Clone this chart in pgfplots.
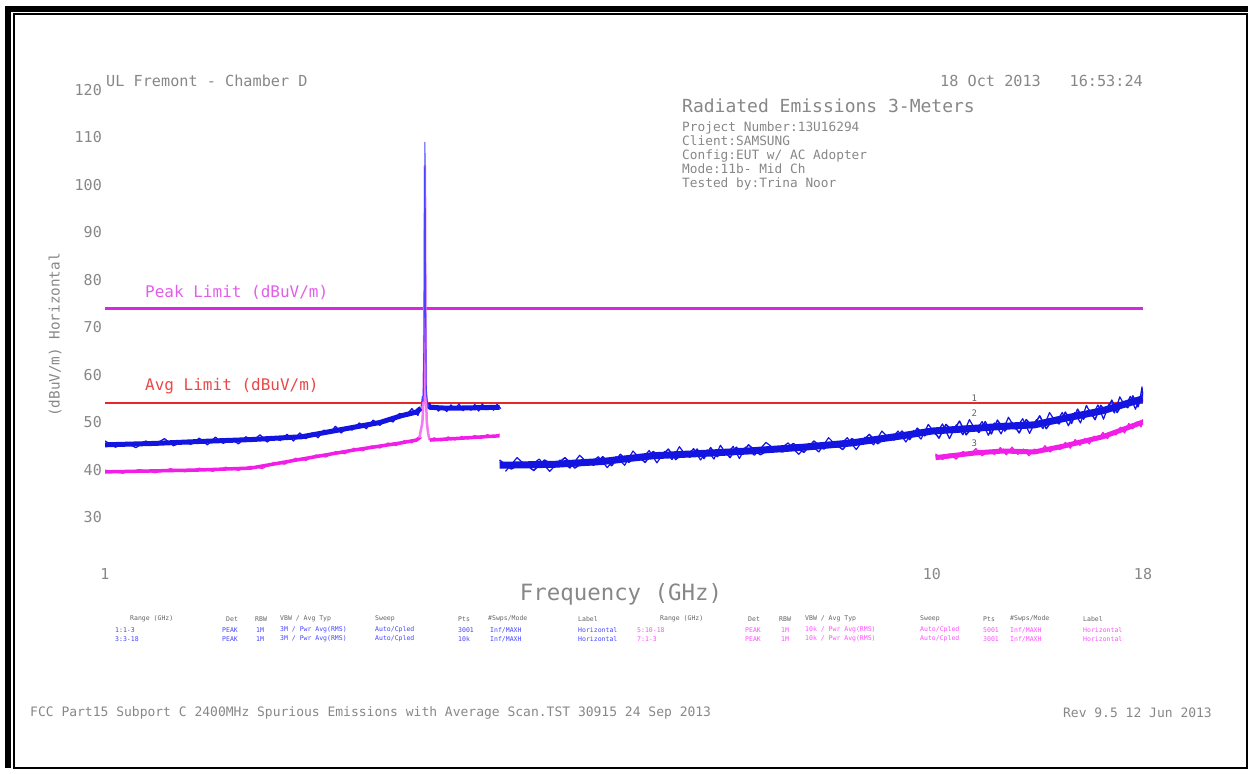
\documentclass[border=0pt]{standalone}
\usepackage{fontspec}
\setmainfont{DejaVu Sans Mono}
\usepackage{pgfplots}
\pgfplotsset{compat=1.18}
\definecolor{tblue}{RGB}{20,20,225}
\definecolor{tmag}{RGB}{240,30,230}
\definecolor{lmag}{RGB}{215,40,225}
\definecolor{lred}{RGB}{230,40,40}
\definecolor{txt}{RGB}{135,135,135}
\definecolor{hdr}{RGB}{100,100,100}
\definecolor{lgblue}{RGB}{70,70,255}
\definecolor{lgmag}{RGB}{255,80,255}
\newcommand\lt[4]{\node[anchor=west,inner sep=0pt,text=#3,font=\fontsize{6.5}{7}\selectfont] at (#1,#2) {#4};}
\begin{document}
\begin{tikzpicture}[x=1pt,y=1pt]
\path[use as bounding box] (0,0) rectangle (1249,773);
% frame
\fill (5,767) rectangle (11,5);
\fill (5,767) rectangle (1248,761);
\draw[line width=2pt] (14,759) rectangle (1247,5);

\begin{axis}[
  at={(105pt,208pt)}, anchor=south west,
  scale only axis, width=1038pt, height=475pt,
  xmode=log, xmin=1, xmax=18, ymin=20, ymax=120,
  enlargelimits=false,
  axis line style={draw=none}, tick style={draw=none},
  major tick length=0pt, minor tick length=0pt,
  xtick={1,10,18}, xticklabels={1,10,18}, minor xtick={},
  ytick={30,40,...,120},
  /pgf/number format/assume math mode=true,
  yticklabel style={font=\fontsize{15}{15}\selectfont, text=txt, anchor=east, inner sep=0pt, xshift=-3pt},
  xticklabel style={font=\fontsize{15}{15}\selectfont, text=txt, anchor=north, inner sep=0pt, yshift=-3pt},
  line join=round,
]
% limits
\addplot[lmag, line width=2.4pt] coordinates {(1,74) (18,74)};
\addplot[lred, line width=2pt] coordinates {(1,54) (18,54)};

% trace 1: blue 1-3 GHz
\addplot[tblue, line width=5pt] coordinates {(1.00,45.3) (1.15,45.6) (1.30,46.0) (1.50,46.4) (1.73,47.0) (2.00,49.0) (2.15,50.0) (2.28,51.4) (2.38,52.2) (2.41,53.0)};
\addplot[tblue, line width=1.3pt] coordinates {
(1.00,46.1) (1.03,44.8) (1.06,45.8) (1.09,44.7) (1.12,46.1) (1.15,45.4) (1.18,46.6) (1.21,45.1) (1.24,45.9) (1.27,45.4)
(1.30,46.7) (1.33,45.3) (1.36,46.9) (1.39,45.6) (1.42,46.6) (1.45,45.5) (1.48,47.0) (1.51,46.2) (1.54,47.4) (1.57,45.9)
(1.60,46.8) (1.63,46.2) (1.66,47.5) (1.69,46.1) (1.72,47.8) (1.75,46.6) (1.78,47.8) (1.81,46.8) (1.84,48.4) (1.87,47.8)
(1.90,49.2) (1.93,47.8) (1.96,48.8) (1.99,48.4) (2.03,49.9) (2.07,48.7) (2.11,50.5) (2.15,49.4) (2.19,50.8) (2.23,50.1)
(2.27,51.9) (2.31,51.4) (2.35,52.9) (2.39,51.5) (2.41,53.0)};
\addplot[tblue, line width=5pt] coordinates {(2.455,54.0) (2.47,53.2) (2.6,53.0) (2.8,53.1) (3.0,53.2)};
\addplot[tblue, line width=1.3pt] coordinates {
(2.46,53.2) (2.50,53.6) (2.53,52.4) (2.56,53.3) (2.59,52.3) (2.62,53.7) (2.65,52.8) (2.68,53.9) (2.71,52.5) (2.74,53.2)
(2.77,52.6) (2.80,53.8) (2.83,52.4) (2.86,53.9) (2.89,52.7) (2.92,53.5) (2.95,52.6) (2.98,53.8) (3.01,52.9)};

% trace 7: magenta 1-3 GHz
\addplot[tmag, line width=3.5pt] coordinates {(1.00,39.6) (1.30,40.0) (1.50,40.4) (1.73,42.3) (2.00,44.2) (2.28,45.7) (2.38,46.3) (2.41,47.0)};
\addplot[tmag, line width=1pt] coordinates {
(1.00,40.0) (1.05,39.3) (1.10,40.1) (1.15,39.4) (1.20,40.3) (1.25,39.6) (1.30,40.4) (1.35,39.7) (1.40,40.6) (1.45,39.9)
(1.50,40.8) (1.55,40.3) (1.60,41.6) (1.65,41.2) (1.70,42.5) (1.75,42.0) (1.80,43.2) (1.85,42.7) (1.90,43.9) (1.95,43.4)
(2.00,44.6) (2.05,44.0) (2.10,45.1) (2.15,44.6) (2.20,45.7) (2.25,45.1) (2.30,46.2) (2.35,45.7) (2.39,46.7)};
\addplot[tmag!60, line width=2.5pt] coordinates {(2.40,46.8) (2.42,50) (2.43,56) (2.434,75) (2.437,104) (2.440,75) (2.444,56) (2.45,50) (2.46,47.5) (2.47,46.3)};
\addplot[tmag, line width=3.5pt] coordinates {(2.47,46.3) (2.7,46.7) (3.0,47.2)};
\addplot[tmag, line width=1pt] coordinates {
(2.47,46.3) (2.50,46.8) (2.55,46.1) (2.60,47.0) (2.65,46.3) (2.70,47.1) (2.75,46.5) (2.80,47.3) (2.85,46.6) (2.90,47.5) (2.95,46.8) (3.00,47.6)};

% blue peak
\addplot[lgblue, line width=1.1pt] coordinates {(2.41,53.0) (2.42,55.5) (2.425,54.5) (2.432,70) (2.437,109) (2.442,75) (2.446,57) (2.45,55.5) (2.46,53.2)};

% trace 3: blue 3-18 GHz
\addplot[tblue, line width=7pt] coordinates {(3.0,41.0) (3.5,41.2) (4.0,41.8) (4.6,43.0) (5.3,43.5) (6.0,44.0) (7.0,44.8) (8.0,45.7) (9.2,47.2) (10.0,48.2) (11.3,48.8) (12.2,49.2) (13.3,49.5) (14.4,50.8) (16.1,52.5) (18.0,55.0)};
\addplot[tblue, line width=1.5pt] coordinates {
(3.0,42.1) (3.1,40.2) (3.2,41.6) (3.3,39.9) (3.4,42.1) (3.5,40.9) (3.6,42.6) (3.7,40.4) (3.8,41.8) (3.9,41.0)
(4.0,42.8) (4.1,40.9) (4.2,43.3) (4.3,41.6) (4.4,43.1) (4.5,41.6) (4.6,43.9) (4.7,42.8) (4.8,44.4) (4.9,42.2)
(5.0,43.5) (5.1,42.7) (5.2,44.4) (5.3,42.4) (5.4,44.7) (5.5,42.8) (5.6,44.2) (5.7,42.6) (5.8,44.8) (5.9,43.6)
(6.0,45.3) (6.2,43.2) (6.4,44.5) (6.6,43.8) (6.8,45.6) (7.0,43.7) (7.2,46.1) (7.4,44.4) (7.6,45.8) (7.8,44.3)
(8.0,46.6) (8.2,45.7) (8.4,47.5) (8.6,45.5) (8.8,46.9) (9.0,46.3) (9.2,48.2) (9.4,46.4) (9.6,48.8) (9.8,47.2)
(10.0,48.7) (10.2,46.7) (10.4,49.6) (10.6,48.1) (10.8,50.3) (11.0,47.4) (11.2,49.1) (11.4,47.9) (11.6,50.2) (11.8,47.6)
(12.0,50.5) (12.25,48.2) (12.5,50.0) (12.75,47.8) (13.0,50.6) (13.25,49.1) (13.5,51.4) (13.75,48.7) (14.0,50.6) (14.25,49.7)
(14.5,52.2) (14.75,49.8) (15.0,52.8) (15.25,50.7) (15.5,52.6) (15.75,50.6) (16.0,53.6) (16.25,52.3) (16.5,54.7) (16.75,52.1)
(17.0,54.0) (17.25,53.1) (17.5,55.6) (17.75,53.3) (18.0,56.4)};
\addplot[tblue, line width=1.2pt] coordinates {
(3.05,39.7) (3.15,42.6) (3.25,40.5) (3.35,42.3) (3.45,39.7) (3.55,42.1) (3.65,40.4) (3.75,43.1) (3.85,41.2) (3.95,42.8)
(4.05,40.5) (4.15,42.8) (4.25,41.0) (4.35,44.0) (4.45,42.1) (4.55,44.1) (4.65,41.5) (4.75,43.9) (4.85,42.2) (4.95,44.9)
(5.05,42.9) (5.15,44.5) (5.25,42.1) (5.35,44.2) (5.45,42.3) (5.55,45.2) (5.65,43.2) (5.75,45.0) (5.85,42.4) (5.95,44.8)
(6.1,43.1) (6.3,45.8) (6.5,44.0) (6.7,45.7) (6.9,43.3) (7.1,45.6) (7.3,43.8) (7.5,46.8) (7.7,44.8) (7.9,46.8)
(8.1,44.3) (8.3,46.9) (8.5,45.3) (8.7,48.2) (8.9,46.4) (9.1,48.2) (9.3,45.9) (9.5,48.3) (9.7,46.5) (9.9,49.6)
(10.1,47.5) (10.3,49.7) (10.5,46.6) (10.7,49.5) (10.9,47.4) (11.1,50.6) (11.3,48.3) (11.5,50.2) (11.7,47.3) (11.9,49.9)
(12.125,47.6) (12.375,51.1) (12.625,48.6) (12.875,50.8) (13.125,47.7) (13.375,50.6) (13.625,48.7) (13.875,52.1) (14.125,50.0) (14.375,52.1)
(14.625,49.3) (14.875,52.1) (15.125,49.9) (15.375,53.6) (15.625,51.3) (15.875,53.7) (16.125,50.7) (16.375,53.9) (16.625,52.0) (16.875,55.4)
(17.125,53.4) (17.375,55.5) (17.625,52.8) (17.875,55.6) (17.95,57.5) (18.0,55.2)};

% trace 5: magenta 10-18 GHz
\addplot[tmag, line width=5pt] coordinates {(10.1,42.6) (11.3,43.6) (12.2,44.0) (13.3,43.8) (14.4,45.0) (16.1,47.0) (18.0,50.1)};
\addplot[tmag, line width=1.3pt] coordinates {
(10.1,43.4) (10.3,42.2) (10.5,43.4) (10.7,42.3) (10.9,43.9) (11.1,43.1) (11.3,44.5) (11.5,43.0) (11.7,44.0) (11.9,43.3)
(12.1,44.7) (12.3,43.2) (12.5,44.8) (12.7,43.3) (12.9,44.4) (13.1,43.0) (13.3,44.4) (13.5,43.7) (13.7,45.1) (13.9,43.8)
(14.1,44.9) (14.3,44.3) (14.5,45.8) (14.7,44.6) (14.9,46.4) (15.1,45.2) (15.3,46.6) (15.5,45.5) (15.7,47.1) (15.9,46.5)
(16.1,47.9) (16.3,46.6) (16.5,47.9) (16.7,47.4) (16.9,49.0) (17.1,47.8) (17.3,49.8) (17.5,48.7) (17.7,50.1) (17.9,49.1) (18.0,50.7)};

% marker labels
\node[font=\fontsize{9}{9}\selectfont, text=hdr, inner sep=0pt] at (axis cs:11.25,55.2) {1};
\node[font=\fontsize{9}{9}\selectfont, text=hdr, inner sep=0pt] at (axis cs:11.25,51.9) {2};
\node[font=\fontsize{9}{9}\selectfont, text=hdr, inner sep=0pt] at (axis cs:11.25,45.6) {3};
\end{axis}

% texts
\node[anchor=west, inner sep=0pt, text=txt, font=\fontsize{15.2}{16}\selectfont] at (106,692) {UL Fremont - Chamber D};
\node[anchor=west, inner sep=0pt, text=txt, font=\fontsize{15.2}{16}\selectfont] at (940,692) {18 Oct 2013};
\node[anchor=east, inner sep=0pt, text=txt, font=\fontsize{15.2}{16}\selectfont] at (1143,692) {16:53:24};
\node[anchor=west, inner sep=0pt, text=txt, font=\fontsize{18}{20}\selectfont] at (682,667) {Radiated Emissions 3-Meters};
\node[anchor=north west, inner sep=0pt, align=left, text=txt, font=\fontsize{12.8}{14}\selectfont] at (682,651) {Project Number:13U16294\\Client:SAMSUNG\\Config:EUT w/ AC Adopter\\Mode:11b- Mid Ch\\Tested by:Trina Noor};
\node[rotate=90, inner sep=0pt, text=txt, font=\fontsize{14.3}{15}\selectfont] at (55,438) {(dBuV/m) Horizontal};
\node[inner sep=0pt, text=txt, font=\fontsize{22.4}{23}\selectfont] at (621,179) {Frequency (GHz)};
\node[anchor=west, inner sep=0pt, text=lmag!75, font=\fontsize{16}{17}\selectfont] at (145,481) {Peak Limit (dBuV/m)};
\node[anchor=west, inner sep=0pt, text=lred!85, font=\fontsize{16}{17}\selectfont] at (145,387) {Avg Limit (dBuV/m)};
\node[anchor=west, inner sep=0pt, text=txt, font=\fontsize{13}{14}\selectfont] at (30,60) {FCC Part15 Subport C 2400MHz Spurious Emissions with Average Scan.TST 30915 24 Sep 2013};
\node[anchor=east, inner sep=0pt, text=txt, font=\fontsize{13}{14}\selectfont] at (1212,60) {Rev 9.5 12 Jun 2013};

% legend table
\lt{130}{154}{hdr}{Range (GHz)}
\lt{226}{154}{hdr}{Det}
\lt{255}{154}{hdr}{RBW}
\lt{280}{154}{hdr}{VBW / Avg Typ}
\lt{375}{154}{hdr}{Sweep}
\lt{458}{154}{hdr}{Pts}
\lt{488}{154}{hdr}{\#Swps/Mode}
\lt{578}{154}{hdr}{Label}
\lt{115}{143}{lgblue}{1:1-3}
\lt{222}{143}{lgblue}{PEAK}
\lt{256}{143}{lgblue}{1M}
\lt{280}{143}{lgblue}{3M / Pwr Avg(RMS)}
\lt{375}{143}{lgblue}{Auto/Cpled}
\lt{458}{143}{lgblue}{3001}
\lt{490}{143}{lgblue}{Inf/MAXH}
\lt{578}{143}{lgblue}{Horizontal}
\lt{115}{134}{lgblue}{3:3-18}
\lt{222}{134}{lgblue}{PEAK}
\lt{256}{134}{lgblue}{1M}
\lt{280}{134}{lgblue}{3M / Pwr Avg(RMS)}
\lt{375}{134}{lgblue}{Auto/Cpled}
\lt{458}{134}{lgblue}{10k}
\lt{490}{134}{lgblue}{Inf/MAXH}
\lt{578}{134}{lgblue}{Horizontal}
\lt{660}{154}{hdr}{Range (GHz)}
\lt{748}{154}{hdr}{Det}
\lt{779}{154}{hdr}{RBW}
\lt{805}{154}{hdr}{VBW / Avg Typ}
\lt{920}{154}{hdr}{Sweep}
\lt{983}{154}{hdr}{Pts}
\lt{1010}{154}{hdr}{\#Swps/Mode}
\lt{1083}{154}{hdr}{Label}
\lt{637}{143}{lgmag}{5:10-18}
\lt{745}{143}{lgmag}{PEAK}
\lt{781}{143}{lgmag}{1M}
\lt{805}{143}{lgmag}{10k / Pwr Avg(RMS)}
\lt{920}{143}{lgmag}{Auto/Cpled}
\lt{983}{143}{lgmag}{5001}
\lt{1010}{143}{lgmag}{Inf/MAXH}
\lt{1083}{143}{lgmag}{Horizontal}
\lt{637}{134}{lgmag}{7:1-3}
\lt{745}{134}{lgmag}{PEAK}
\lt{781}{134}{lgmag}{1M}
\lt{805}{134}{lgmag}{10k / Pwr Avg(RMS)}
\lt{920}{134}{lgmag}{Auto/Cpled}
\lt{983}{134}{lgmag}{3001}
\lt{1010}{134}{lgmag}{Inf/MAXH}
\lt{1083}{134}{lgmag}{Horizontal}
\end{tikzpicture}
\end{document}
